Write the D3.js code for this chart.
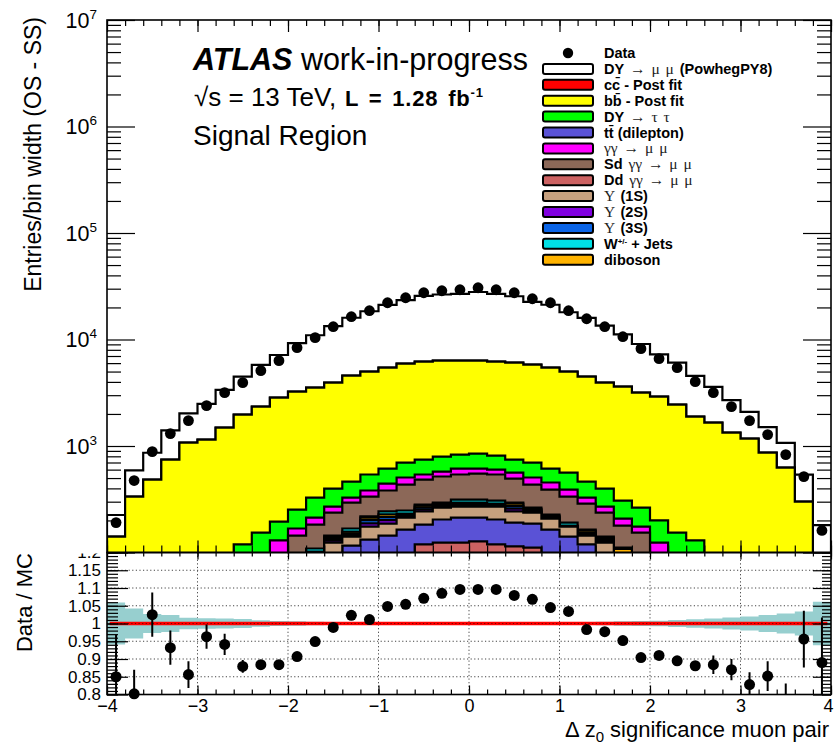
<!DOCTYPE html>
<html>
<head>
<meta charset="utf-8">
<title>Delta z0 significance muon pair</title>
<script src="https://cdn.jsdelivr.net/npm/d3@7"></script>
<style>
body { margin: 0; background: #fff; }
svg { display: block; }
</style>
</head>
<body>
<div id="chart"></div>
<script>
// ---- data (entries / bin width, bins of 0.2) ----
var binCenters = [-3.9,-3.7,-3.5,-3.3,-3.1,-2.9,-2.7,-2.5,-2.3,-2.1,-1.9,-1.7,-1.5,-1.3,-1.1,-0.9,-0.7,-0.5,-0.3,-0.1,
                  0.1,0.3,0.5,0.7,0.9,1.1,1.3,1.5,1.7,1.9,2.1,2.3,2.5,2.7,2.9,3.1,3.3,3.5,3.7,3.9];

var dataCounts = [191,474,886,1307,1731,2393,3169,3933,5097,6326,8378,10400,13190,16370,18630,22140,24670,27480,28700,29330,
                  30610,29330,27480,24140,22140,18630,15670,13190,10620,8200,6605,5439,4019,3169,2342,1731,1279,830,516,161];

var dyMuMu   = [84,256,380,656,946,1337,1880,2504,3424,4312,5999,7429,9404,11427,13439,15687,17477,19468,20126,20435,
                21603,20571,19409,16802,15748,13029,11464,9567,7548,5902,4351,3632,2675,1927,1356,918,638,444,238,121];
var ccbar    = [0,0,0,0,0,0,0,0,0,0,0,0,0,0,0,0,0,0,0,0,0,0,0,0,0,0,0,0,0,0,0,0,0,0,0,0,0,0,0,0];
var bbbar    = [141,335,484,746,1076,1148,1488,1851,2188,2649,2985,3202,3535,4112,4448,4825,5231,5445,5530,5496,
                5477,5377,5314,5103,4825,4425,4014,3535,3300,2905,2707,2291,1757,1658,1336,1173,867,627,301,60];
var dyTauTau = [0,0,0,0,0,0,0,119,154,65,85,115,128,135,158,170,192,205,221,216,
                235,212,182,192,160,173,135,128,99,89,76,154,130,0,0,0,0,0,0,0];
var gamGam   = [0,0,0,0,0,0,0,0,0,35,24,30,33,34,47,62,72,56,58,74,
                63,61,69,72,64,55,40,33,29,21,29,0,0,0,0,0,0,0,0,0];
var sdGamGam = [0,0,0,0,0,0,0,0,0,95,144,74,93,126,117,139,186,202,223,226,
                237,233,200,170,163,144,124,96,68,154,95,0,0,0,0,0,0,0,0,0];
var wJets    = [0,0,0,0,0,0,0,0,0,0,0,7,4,11,5,15,16,7,7,20,
                20,19,7,7,6,12,4,4,3,0,0,0,0,0,0,0,0,0,0,0];
var diboson  = [0,0,0,0,0,0,0,0,0,0,0,34,6,6,12,13,7,10,7,8,
                8,6,14,6,5,2,6,5,36,0,0,0,0,0,0,0,0,0,0,0];
var ups3S    = [0,0,0,0,0,0,0,0,0,0,0,34,5,5,13,14,6,11,8,8,
                8,6,15,7,4,1,5,4,36,0,0,0,0,0,0,0,0,0,0,0];
var ups2S    = [0,0,0,0,0,0,0,0,0,0,0,34,5,5,13,14,6,11,8,8,
                8,6,15,7,4,1,5,4,36,0,0,0,0,0,0,0,0,0,0,0];
var ups1S    = [0,0,0,0,0,0,0,0,0,0,0,0,124,25,43,43,49,60,60,57,
                57,66,52,50,44,34,25,124,0,0,0,0,0,0,0,0,0,0,0,0];
var ttbar    = [0,0,0,0,0,0,0,0,0,0,0,0,0,116,132,144,164,64,80,89,
                86,85,77,76,164,141,119,0,0,0,0,0,0,0,0,0,0,0,0,0];
var ddGamGam = [0,0,0,0,0,0,0,0,0,0,0,0,0,0,0,0,0,119,124,124,
                127,119,114,111,0,0,0,0,0,0,0,0,0,0,0,0,0,0,0,0];

// ratio panel
var ratio    = [0.850,0.802,1.025,0.932,0.856,0.963,0.941,0.879,0.884,0.884,0.907,0.949,0.989,1.023,1.011,1.048,1.054,1.071,1.085,1.096,
                1.096,1.096,1.079,1.068,1.045,1.034,0.983,0.977,0.952,0.904,0.910,0.895,0.881,0.884,0.870,0.828,0.852,0.775,0.956,0.890];
var ratioErr = [0.118,0.068,0.062,0.048,0.038,0.034,0.030,0.018,0.012,0.010,0.008,0.006,0.005,0.005,0.004,0.004,0.004,0.004,0.004,0.004,
                0.004,0.004,0.004,0.004,0.004,0.004,0.005,0.005,0.006,0.007,0.008,0.009,0.012,0.026,0.030,0.035,0.042,0.056,0.080,0.127];
var mcStatErr = [0.059,0.042,0.027,0.024,0.016,0.015,0.014,0.013,0.009,0.007,0.006,0.005,0.004,0.004,0.004,0.003,0.003,0.003,0.003,0.003,
                 0.003,0.003,0.003,0.003,0.003,0.003,0.004,0.005,0.006,0.007,0.008,0.010,0.012,0.014,0.017,0.020,0.024,0.028,0.034,0.061];

// ticks
var xTicks = [-4,-3,-2,-1,0,1,2,3,4];
var yMainTicks = [1e2,1e3,1e4,1e5,1e6,1e7];
var yMainLabelled = [1e3,1e4,1e5,1e6,1e7];
var ratioTicks = [0.8,0.85,0.9,0.95,1,1.05,1.1,1.15,1.2];
var ratioGrid = [0.85,0.9,0.95,1,1.05,1.1,1.15];

// legend
var legendText = [
  [["Data",1]],
  [["DY",1],[" \u2192 \u03bc \u03bc ",0],["(PowhegPY8)",1]],
  [["cc\u0304 - Post fit",1]],
  [["bb\u0304 - Post fit",1]],
  [["DY",1],[" \u2192 \u03c4 \u03c4",0]],
  [["tt\u0304 (dilepton)",1]],
  [["\u03b3\u03b3 \u2192 \u03bc \u03bc",0]],
  [["Sd",1],[" \u03b3\u03b3 \u2192 \u03bc \u03bc",0]],
  [["Dd",1],[" \u03b3\u03b3 \u2192 \u03bc \u03bc",0]],
  [["\u03a5 ",0],["(1S)",1]],
  [["\u03a5 ",0],["(2S)",1]],
  [["\u03a5 ",0],["(3S)",1]],
  [["W",1],["+/-",2],[" + Jets",1]],
  [["diboson",1]]
];
var legendKeys = [null,"dy","cc","bb","tautau","tt","gg","sd","dd","u1","u2","u3","w","vv"];

// ---- drawing ----
var FONT = '"Liberation Sans", Arial, Helvetica, sans-serif';
var SERIF = '"Liberation Serif", "DejaVu Serif", serif';
var fills = {dy:"#ffffff", cc:"#ff0000", bb:"#ffff00", tautau:"#00ff00", tt:"#5a52d6", gg:"#ff00ff",
             sd:"#8c6858", dd:"#cc6262", u1:"#c6a07e", u2:"#8000e0", u3:"#0a64e6", w:"#00e0e6", vv:"#ffb300"};

var width = 835, height = 746;
var left = 107, right = 831, plotTop = 20, mid = 552.5, bottom = 694.5;
var binHalf = 0.1;

var svg = d3.select("#chart").append("svg")
  .attr("width", width).attr("height", height)
  .attr("font-family", FONT);

var x = d3.scaleLinear().domain([-4, 4]).range([left, right]);
var y = d3.scaleLog().domain([100, 1e7]).range([mid, plotTop]);
var yr = d3.scaleLinear().domain([0.8, 1.2]).range([bottom, mid]);

var defs = svg.append("defs");
defs.append("clipPath").attr("id", "clipMain").append("rect")
  .attr("x", left).attr("y", plotTop).attr("width", right - left).attr("height", mid - plotTop);
defs.append("clipPath").attr("id", "clipRatio").append("rect")
  .attr("x", left).attr("y", mid).attr("width", right - left).attr("height", bottom - mid);

function stepPoints(vals, f) {
  var pts = binCenters.map(function(c, i) { return [x(c - binHalf), f(vals[i])]; });
  var n = binCenters.length - 1;
  pts.push([x(binCenters[n] + binHalf), f(vals[n])]);
  return pts;
}
function yv(v) { return v > 100 ? y(v) : mid + 6; }

// stacked histograms (ROOT style: cumulative sums painted from the top down)
var table = binCenters.map(function(c, i) {
  return {dd: ddGamGam[i], tt: ttbar[i], u1: ups1S[i], u2: ups2S[i], u3: ups3S[i], vv: diboson[i], w: wJets[i],
          sd: sdGamGam[i], gg: gamGam[i], tautau: dyTauTau[i], bb: bbbar[i], cc: ccbar[i], dy: dyMuMu[i]};
});
var stackKeys = ["dd","tt","u1","u2","u3","vv","w","sd","gg","tautau","bb","cc","dy"];
var series = d3.stack().keys(stackKeys)(table);

var stackArea = d3.area().curve(d3.curveStepAfter)
  .x(function(p) { return p[0]; })
  .y0(mid + 6)
  .y1(function(p) { return p[1]; });

var gStack = svg.append("g").attr("clip-path", "url(#clipMain)");
series.slice().reverse().forEach(function(s) {
  var tops = s.map(function(d) { return d[1]; });
  gStack.append("path")
    .attr("d", stackArea(stepPoints(tops, yv)))
    .attr("fill", fills[s.key])
    .attr("stroke", "#000")
    .attr("stroke-width", 2.2);
});

// data points
svg.append("g").selectAll("circle")
  .data(dataCounts)
  .enter()
  .append("circle")
  .attr("cx", function(d, i) { return x(binCenters[i]); })
  .attr("cy", function(d) { return y(d); })
  .attr("r", 5.4)
  .attr("fill", "#000");

// ---- axes helpers ----
function tickAxis(axis, tx, ty, size, values) {
  var g = svg.append("g").attr("transform", "translate(" + tx + "," + ty + ")")
    .call(axis.tickValues(values).tickSize(size).tickSizeOuter(0).tickFormat(""));
  g.select(".domain").remove();
  g.selectAll(".tick line").attr("stroke", "#000").attr("stroke-width", 1.2);
  g.selectAll(".tick text").remove();
  return g;
}
var xMinor = d3.range(41).map(function(i) { return -4 + i * 0.2; });
var yMinor = [];
[100, 1000, 10000, 100000, 1000000].forEach(function(dec) {
  [2,3,4,5,6,7,8,9].forEach(function(m) { yMinor.push(m * dec); });
});
var rMinor = d3.range(41).map(function(i) { return 0.8 + i * 0.01; });

// main panel ticks
tickAxis(d3.axisBottom(x), 0, mid, -12, xTicks);
tickAxis(d3.axisBottom(x), 0, mid, -7, xMinor);
tickAxis(d3.axisTop(x), 0, plotTop, -12, xTicks);
tickAxis(d3.axisTop(x), 0, plotTop, -6, xMinor);
tickAxis(d3.axisLeft(y), left, 0, -28, yMainTicks);
tickAxis(d3.axisLeft(y), left, 0, -14, yMinor);
tickAxis(d3.axisRight(y), right, 0, -28, yMainTicks);
tickAxis(d3.axisRight(y), right, 0, -14, yMinor);

// main y labels 10^n
var gYLab = svg.append("g").attr("text-anchor", "end").attr("fill", "#000");
yMainLabelled.forEach(function(v) {
  var t = gYLab.append("text").attr("x", left - 10).attr("y", y(v) + 7.5).attr("font-size", 21.5);
  t.append("tspan").text("10");
  t.append("tspan").attr("font-size", 13.5).attr("dy", -9).text(String(Math.round(Math.log10(v))));
});

// ---- ratio panel ----
var gR = svg.append("g");
var gGrid = gR.append("g").attr("stroke", "#444").attr("stroke-width", 1).attr("stroke-dasharray", "1.2,2.4");
gGrid.selectAll("line.v").data(xTicks.slice(1, -1)).enter().append("line")
  .attr("x1", function(d) { return x(d); }).attr("x2", function(d) { return x(d); })
  .attr("y1", mid).attr("y2", bottom);
gGrid.selectAll("line.h").data(ratioGrid).enter().append("line")
  .attr("x1", left).attr("x2", right)
  .attr("y1", function(d) { return yr(d); }).attr("y2", function(d) { return yr(d); });

var bandArea = d3.area().curve(d3.curveStepAfter)
  .x(function(p) { return p[0]; })
  .y0(function(p) { return p[2]; })
  .y1(function(p) { return p[1]; });
var bandPts = binCenters.map(function(c, i) {
  return [x(c - binHalf), yr(1 + mcStatErr[i]), yr(1 - mcStatErr[i])];
});
var nLast = binCenters.length - 1;
bandPts.push([x(binCenters[nLast] + binHalf), yr(1 + mcStatErr[nLast]), yr(1 - mcStatErr[nLast])]);
gR.append("path").attr("d", bandArea(bandPts)).attr("fill", "#97cfcf").attr("clip-path", "url(#clipRatio)");

gR.append("line")
  .attr("x1", x(-3.97)).attr("x2", x(3.96))
  .attr("y1", yr(1)).attr("y2", yr(1))
  .attr("stroke", "#ff0000").attr("stroke-width", 3.5);
gR.append("line")
  .attr("x1", x(-3.97)).attr("x2", x(3.96))
  .attr("y1", yr(1)).attr("y2", yr(1))
  .attr("stroke", "#700").attr("stroke-width", 1).attr("stroke-dasharray", "1.2,2.4");

// error bars and markers
gR.append("g").attr("clip-path", "url(#clipRatio)").selectAll("line")
  .data(ratio)
  .enter()
  .append("line")
  .attr("x1", function(d, i) { return x(binCenters[i]); })
  .attr("x2", function(d, i) { return x(binCenters[i]); })
  .attr("y1", function(d, i) { return yr(d - ratioErr[i]); })
  .attr("y2", function(d, i) { return yr(d + ratioErr[i]); })
  .attr("stroke", "#000").attr("stroke-width", 2);
gR.append("g").selectAll("circle")
  .data(ratio.map(function(r, i) { return {r: r, c: binCenters[i]}; }).filter(function(d) { return d.r >= 0.8 && d.r <= 1.2; }))
  .enter()
  .append("circle")
  .attr("cx", function(d) { return x(d.c); })
  .attr("cy", function(d) { return yr(d.r); })
  .attr("r", 5.5)
  .attr("fill", "#000");

// ratio ticks
tickAxis(d3.axisTop(x), 0, mid, -7, xTicks);
tickAxis(d3.axisTop(x), 0, mid, -4, xMinor);
tickAxis(d3.axisBottom(x), 0, bottom, -5, xMinor);
tickAxis(d3.axisLeft(yr), left, 0, -21, ratioTicks);
tickAxis(d3.axisLeft(yr), left, 0, -11, rMinor);
tickAxis(d3.axisRight(yr), right, 0, -18, ratioTicks);
tickAxis(d3.axisRight(yr), right, 0, -9, rMinor);

var gxr = svg.append("g").attr("transform", "translate(0," + bottom + ")")
  .call(d3.axisBottom(x).tickValues(xTicks).tickSize(-9).tickSizeOuter(0).tickPadding(5).tickFormat(d3.format("d")));
gxr.select(".domain").remove();
gxr.selectAll(".tick line").attr("stroke", "#000").attr("stroke-width", 1.2);
gxr.selectAll(".tick text").attr("font-size", 18).attr("font-family", FONT).attr("fill", "#000")
  .attr("dx", function(d) { return d === 4 ? -3 : 0; });

defs.append("clipPath").attr("id", "clipRLab").append("rect")
  .attr("x", -120).attr("y", mid + 1).attr("width", 130).attr("height", 200);
var gyr = svg.append("g").attr("transform", "translate(" + left + ",0)")
  .attr("clip-path", "url(#clipRLab)")
  .call(d3.axisLeft(yr).tickValues(ratioTicks).tickSize(0).tickSizeOuter(0).tickPadding(6)
    .tickFormat(function(d) { return String(+d.toFixed(2)); }));
gyr.select(".domain").remove();
gyr.selectAll(".tick text").attr("font-size", 17).attr("font-family", FONT).attr("fill", "#000");

// frames
svg.append("rect").attr("x", left).attr("y", plotTop).attr("width", right - left).attr("height", mid - plotTop)
  .attr("fill", "none").attr("stroke", "#000").attr("stroke-width", 1.6);
svg.append("rect").attr("x", left).attr("y", mid).attr("width", right - left).attr("height", bottom - mid)
  .attr("fill", "none").attr("stroke", "#000").attr("stroke-width", 1.6);

// axis titles
svg.append("text").attr("transform", "translate(41,17) rotate(-90)")
  .attr("text-anchor", "end").attr("font-size", 23).text("Entries/bin width (OS - SS)");
svg.append("text").attr("transform", "translate(32,553) rotate(-90)")
  .attr("text-anchor", "end").attr("font-size", 22).text("Data / MC");
var xt = svg.append("text").attr("x", right - 2).attr("y", 737).attr("text-anchor", "end").attr("font-size", 22);
xt.append("tspan").text("\u0394 z");
xt.append("tspan").attr("font-size", 15).attr("dy", 5).text("0");
xt.append("tspan").attr("dy", -5).text(" significance muon pair");

// ATLAS label
var l1 = svg.append("text").attr("x", 193).attr("y", 70).attr("font-size", 30.5);
l1.append("tspan").attr("font-weight", "bold").attr("font-style", "italic").text("ATLAS");
l1.append("tspan").text(" work-in-progress");
svg.append("text").attr("x", 194).attr("y", 106).attr("font-size", 26).text("\u221as = 13 TeV,");
var l2 = svg.append("text").attr("x", 345).attr("y", 106).attr("font-size", 22).attr("font-weight", "bold")
  .attr("letter-spacing", 0.8).attr("word-spacing", 3);
l2.append("tspan").text("L = 1.28 fb");
l2.append("tspan").attr("font-size", 13).attr("dy", -9).text("-1");
svg.append("text").attr("x", 193).attr("y", 145).attr("font-size", 28).text("Signal Region");

// legend
var gLeg = svg.append("g");
legendText.forEach(function(parts, i) {
  var cy = 53 + 15.9 * i;
  var key = legendKeys[i];
  if (key === null) {
    gLeg.append("circle").attr("cx", 568).attr("cy", cy).attr("r", 5.2).attr("fill", "#000");
  } else {
    gLeg.append("rect").attr("x", 543).attr("y", cy - 5).attr("width", 50).attr("height", 10)
      .attr("rx", 2).attr("fill", fills[key]).attr("stroke", "#000").attr("stroke-width", 2);
  }
  var t = gLeg.append("text").attr("x", 604).attr("y", cy + 5).attr("font-size", 14.5);
  var shifted = false;
  parts.forEach(function(p) {
    var ts = t.append("tspan").text(p[0]);
    if (p[1] === 1) ts.attr("font-weight", "bold");
    if (p[1] === 0) ts.attr("font-family", SERIF).attr("font-size", 15.5).attr("fill", "#222").attr("word-spacing", 2);
    if (p[1] === 2) { ts.attr("font-size", 8).attr("dy", -5).attr("font-weight", "bold"); shifted = true; }
    else if (shifted) { ts.attr("dy", 5); shifted = false; }
  });
});
</script>
</body>
</html>
